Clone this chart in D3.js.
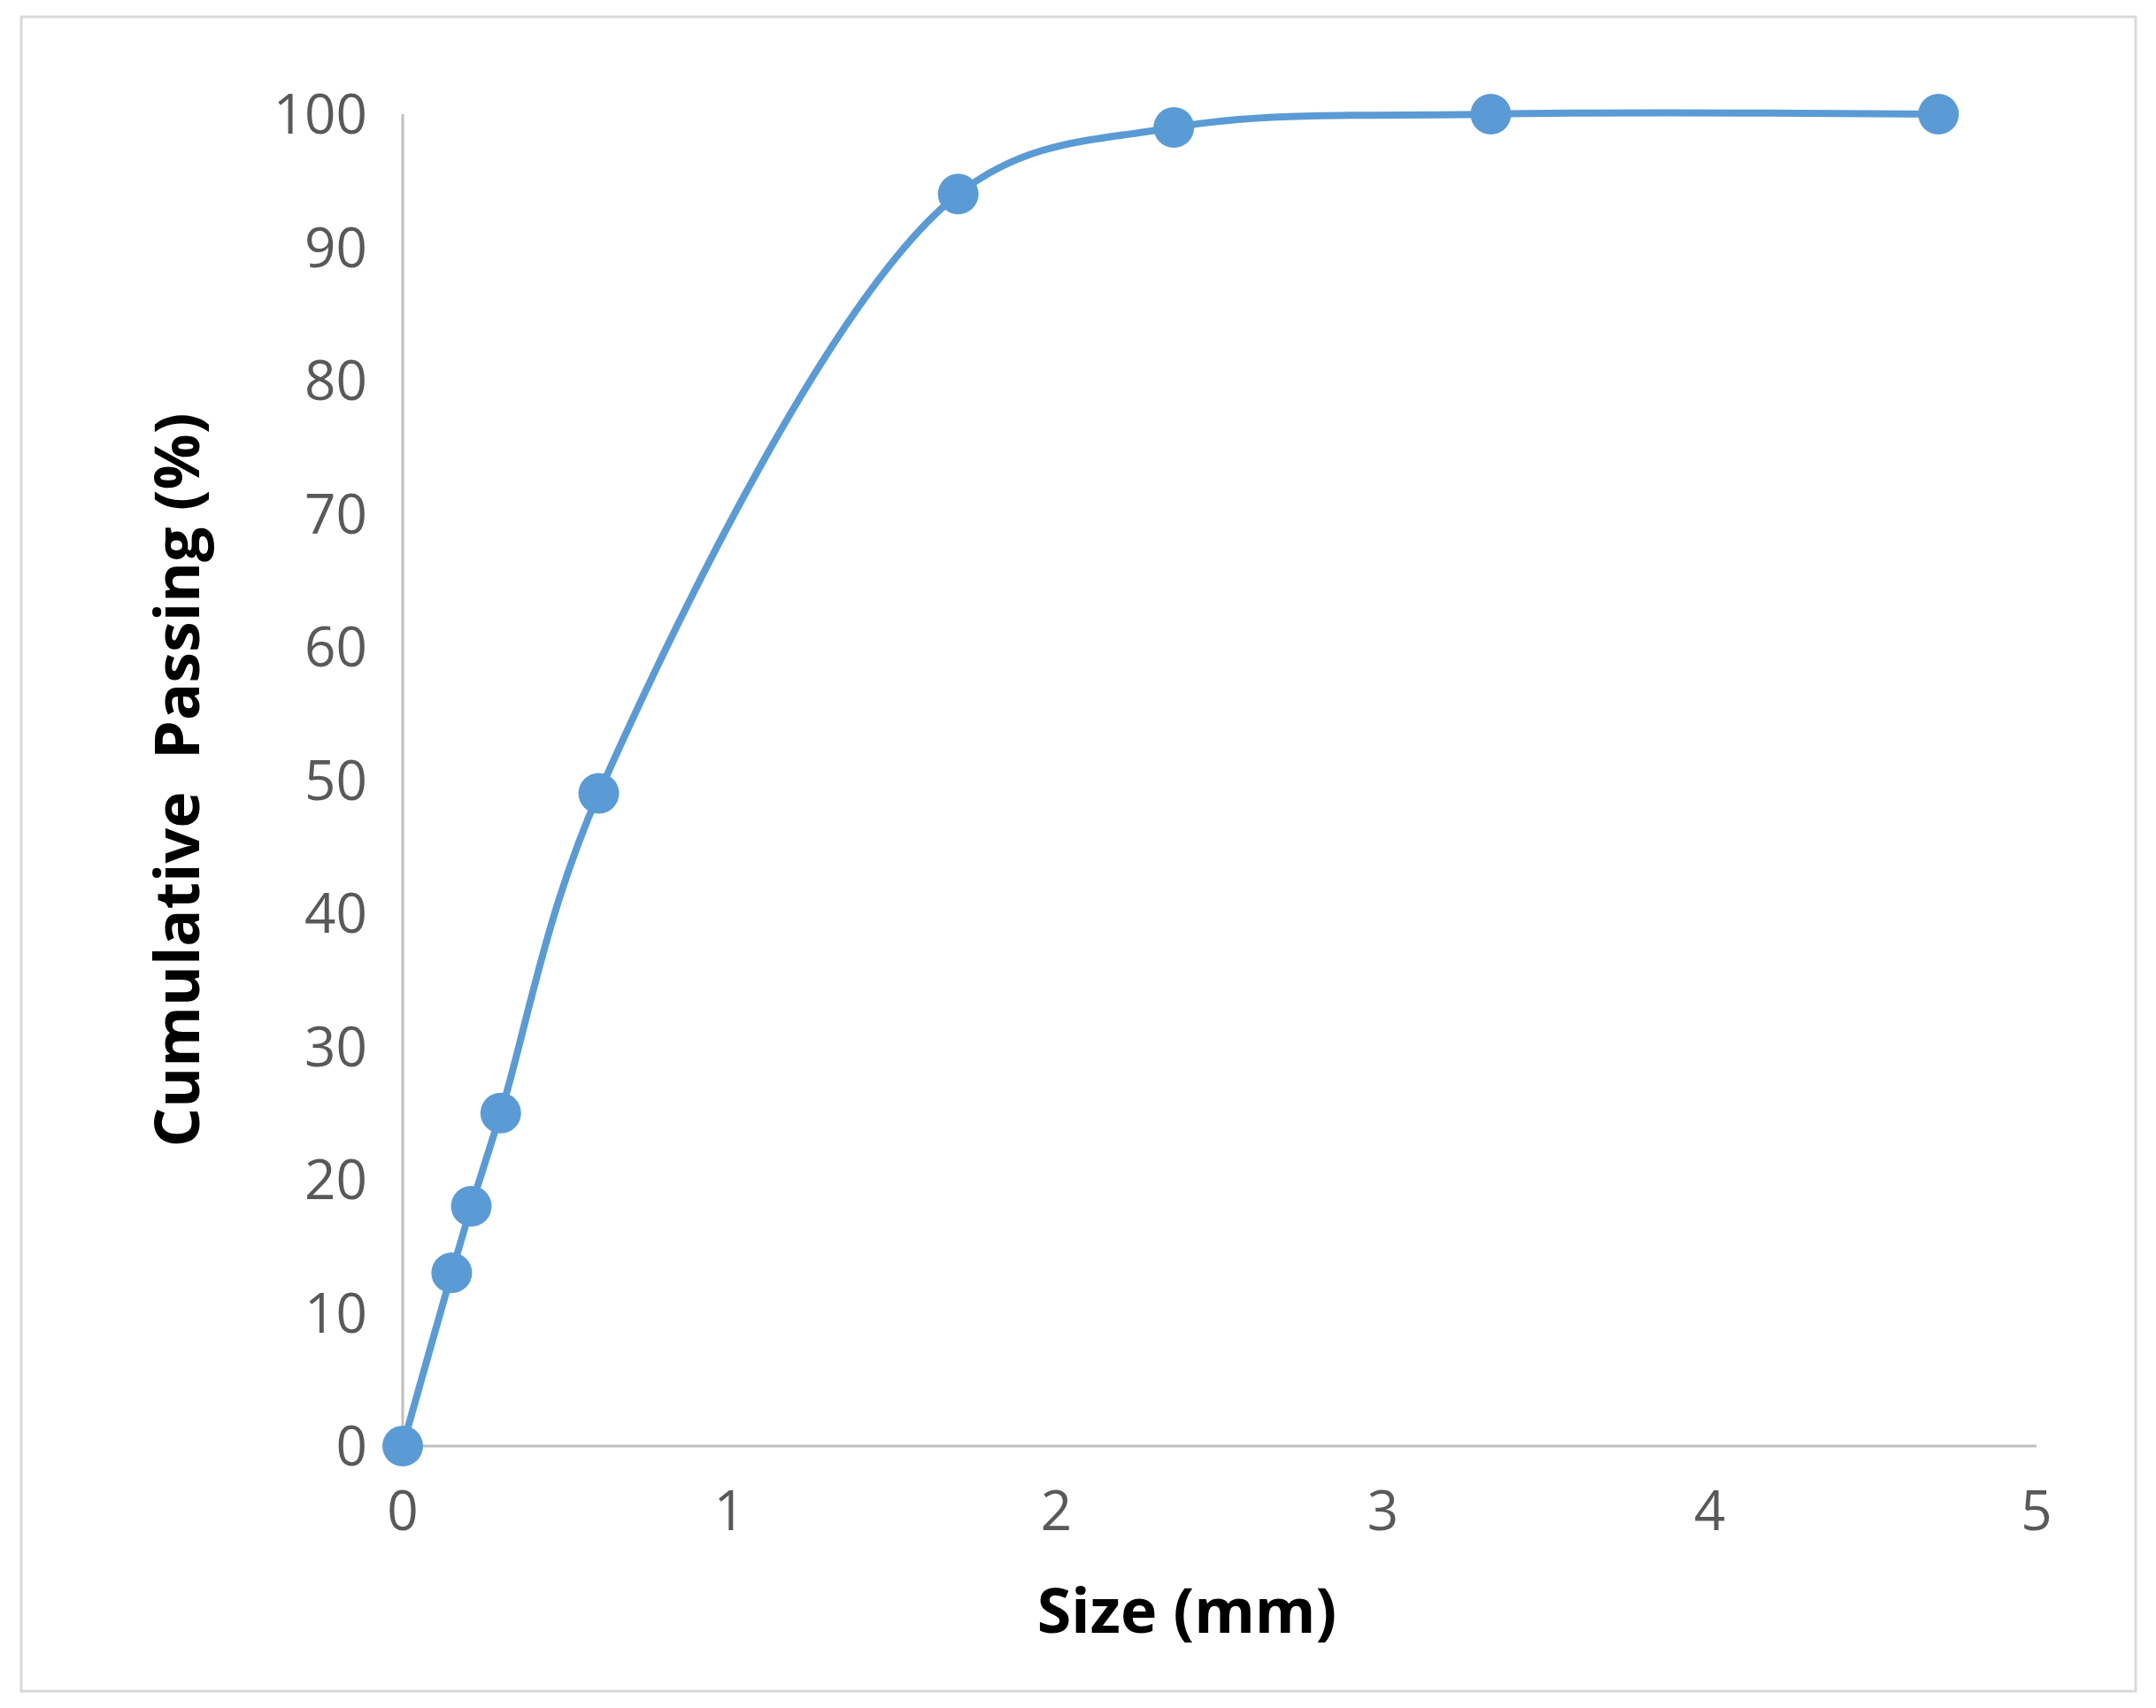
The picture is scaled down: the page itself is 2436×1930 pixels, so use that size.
<!DOCTYPE html>
<html><head><meta charset="utf-8">
<script src="https://cdn.jsdelivr.net/npm/d3@7"></script>
<style>body{margin:0;background:#fff}</style>
</head><body>
<script>
var sizes = [0, 0.15, 0.21, 0.3, 0.6, 1.7, 2.36, 3.33, 4.7];
var passing = [0, 13, 18, 25, 49, 94, 99, 100, 100];
var xTicks = [0, 1, 2, 3, 4, 5];
var yTicks = [0, 10, 20, 30, 40, 50, 60, 70, 80, 90, 100];

var W = 2436, H = 1930;
var svg = d3.select("body").append("svg").attr("width", W).attr("height", H);
svg.append("rect").attr("x", 24).attr("y", 19).attr("width", 2389).attr("height", 1892)
  .attr("fill", "#fff").attr("stroke", "#d9d9d9").attr("stroke-width", 3);

var x = d3.scaleLinear().domain([0, 5]).range([455, 2301]);
var y = d3.scaleLinear().domain([0, 100]).range([1634, 129]);
var font = "'Open Sans', 'Liberation Sans', sans-serif";

// axis lines
svg.append("line").attr("x1", x(0)).attr("x2", x(5)).attr("y1", y(0)).attr("y2", y(0))
  .attr("stroke", "#bfbfbf").attr("stroke-width", 3);
svg.append("line").attr("x1", x(0)).attr("x2", x(0)).attr("y1", y(0)).attr("y2", y(100))
  .attr("stroke", "#bfbfbf").attr("stroke-width", 3);

svg.selectAll(".xt").data(xTicks).enter().append("text")
  .attr("x", function(d){ return x(d); }).attr("y", y(0) + 95)
  .attr("text-anchor", "middle").attr("font-family", font).attr("font-size", 62)
  .attr("fill", "#595959").text(function(d){ return d; });
svg.selectAll(".yt").data(yTicks).enter().append("text")
  .attr("x", x(0) - 40).attr("y", function(d){ return y(d) + 22; })
  .attr("text-anchor", "end").attr("font-family", font).attr("font-size", 62)
  .attr("fill", "#595959").text(function(d){ return d; });

svg.append("text").attr("x", x(2.4)).attr("y", 1845).attr("text-anchor", "middle")
  .attr("font-family", font).attr("font-size", 70).attr("font-weight", "bold")
  .text("Size (mm)");
svg.append("text").attr("transform", "translate(225," + y(50) + ") rotate(-90)")
  .attr("text-anchor", "middle").attr("font-family", font).attr("font-size", 70)
  .attr("font-weight", "bold").attr("xml:space", "preserve").text("Cumulative  Passing (%)");

var pts = sizes.map(function(s, i){ return [s, passing[i]]; });
var line = d3.line().x(function(d){ return x(d[0]); }).y(function(d){ return y(d[1]); })
  .curve(d3.curveCatmullRom.alpha(0.5));
svg.append("path").datum(pts).attr("d", line).attr("fill", "none")
  .attr("stroke", "#5b9bd5").attr("stroke-width", 8);
svg.selectAll(".pt").data(pts).enter().append("circle")
  .attr("cx", function(d){ return x(d[0]); }).attr("cy", function(d){ return y(d[1]); })
  .attr("r", 23).attr("fill", "#5b9bd5");
</script>
</body></html>
